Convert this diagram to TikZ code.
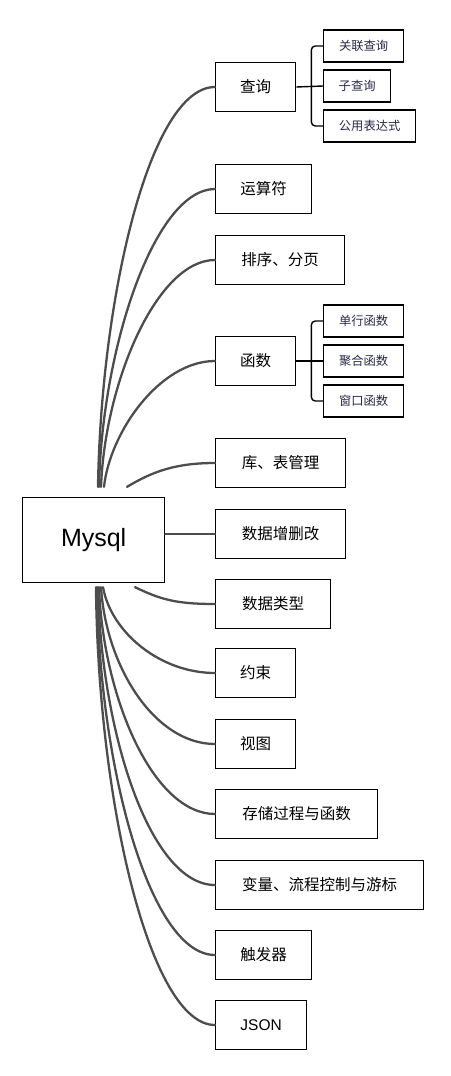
\documentclass[tikz,border=0pt]{standalone}
\usepackage{fontspec}
\setmainfont{Noto Sans CJK SC}
\newfontfamily\latinfont{Liberation Sans}
\definecolor{mybranch}{RGB}{77,77,77}
\definecolor{mysubtext}{RGB}{40,40,70}
\newcommand{\heighttopic}{49pt}
\newcommand{\heightsub}{32pt}
\tikzset{
    common/.style={draw, rectangle, line width=1.3pt, anchor=west, inner sep=0pt},
    root/.style={common, minimum width=142pt, minimum height=85pt, font=\latinfont\fontsize{25}{30}\selectfont},
    topic/.style={common, minimum height=\heighttopic, font=\fontsize{15.5}{18}\selectfont},
    subtopic/.style={common, minimum height=\heightsub, text=mysubtext, font=\fontsize{12.3}{15}\selectfont},
    branch/.style={draw=mybranch, line width=2.3pt, line cap=round},
    twig/.style={draw=black, line width=1.4pt, rounded corners=4pt}
}

\begin{document}
\begin{tikzpicture}[x=1pt, y=-1pt]
    \useasboundingbox (0,0) rectangle (450,1076);

    \node[root] (mysql) at (22,540) {Mysql};

    % topics
    \node[topic, minimum width=80pt] (query) at (215,87) {查询};
    \node[topic, minimum width=96pt] (oper) at (215,189) {运算符};
    \node[topic, minimum width=129pt] (sort) at (215,260) {排序、分页};
    \node[topic, minimum width=80pt] (func) at (215,361) {函数};
    \node[topic, minimum width=130pt] (ddl) at (215,463) {库、表管理};
    \node[topic, minimum width=130pt] (dml) at (215,534) {数据增删改};
    \node[topic, minimum width=115pt] (dtype) at (215,604) {数据类型};
    \node[topic, minimum width=80pt] (cons) at (215,673) {约束};
    \node[topic, minimum width=80pt] (view) at (215,744) {视图};
    \node[topic, minimum width=162pt] (proc) at (215,814) {存储过程与函数};
    \node[topic, minimum width=208pt] (var) at (215,885) {变量、流程控制与游标};
    \node[topic, minimum width=96pt] (trig) at (215,955) {触发器};
    \node[topic, minimum width=91pt, font=\latinfont\fontsize{15.5}{18}\selectfont] (json) at (215,1025) {JSON};

    % subtopics
    \node[subtopic, minimum width=80pt] (q1) at (323,46) {关联查询};
    \node[subtopic, minimum width=67pt] (q2) at (323,86) {子查询};
    \node[subtopic, minimum width=92pt] (q3) at (323,126) {公用表达式};
    \node[subtopic, minimum width=80pt] (f1) at (323,321) {单行函数};
    \node[subtopic, minimum width=80pt] (f2) at (323,361) {聚合函数};
    \node[subtopic, minimum width=80pt] (f3) at (323,401) {窗口函数};

    % branches
    \foreach \n/\sx/\ax/\ay/\bx in {query/76/3/-190/-65, oper/77/3/-140/-60,
            sort/79/4/-105/-58, func/82/6/-55/-55, ddl/105/25/-15/-40}
        \draw[branch] ([shift={(\sx,-10)}]mysql.north west) .. controls +(\ax,\ay) and +(\bx,0) .. (\n.west);
    \foreach \n/\sx/\ax/\ay/\bx in {dtype/113/25/12/-40, cons/81/8/45/-55,
            view/79/5/80/-60, proc/77/4/110/-62, var/76/3/145/-65,
            trig/75/2/180/-65, json/74/2/215/-65}
        \draw[branch] ([shift={(\sx,4)}]mysql.south west) .. controls +(\ax,\ay) and +(\bx,0) .. (\n.west);
    \draw[branch] (mysql.east |- dml.west) -- (dml.west);

    % brackets
    \coordinate (qj) at ([xshift=15pt]query.east);
    \draw[twig] (query.east) -- (q2.west);
    \draw[twig] (q1.west) -| (qj) |- (q3.west);
    \coordinate (fj) at ([xshift=15pt]func.east);
    \draw[twig] (func.east) -- (f2.west);
    \draw[twig] (f1.west) -| (fj) |- (f3.west);
\end{tikzpicture}
\end{document}
